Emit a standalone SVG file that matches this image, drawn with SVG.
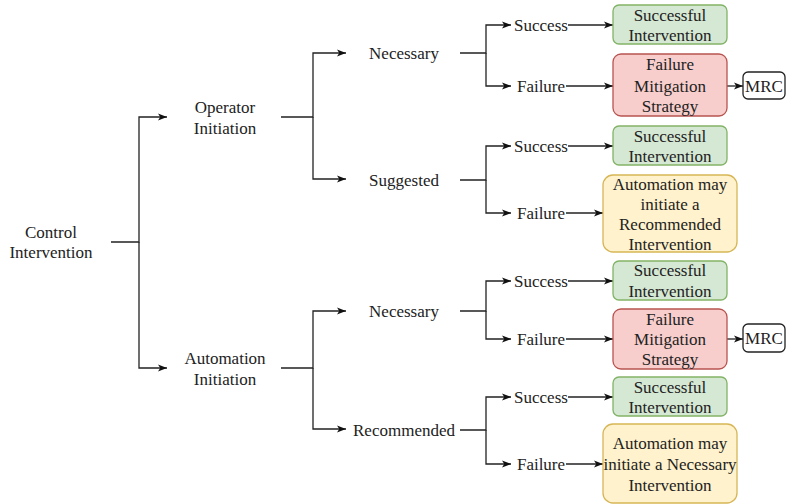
<svg xmlns="http://www.w3.org/2000/svg" width="786" height="504" viewBox="0 0 786 504">
<defs>
<marker id="arr" viewBox="0 0 10 8" refX="10" refY="4" markerWidth="9" markerHeight="7.2" markerUnits="userSpaceOnUse" orient="auto">
<path d="M0,0 L10,4 L0,8 L2.5,4 z" fill="#111"/>
</marker>
<style>
.c{fill:none;stroke:#222;stroke-width:1.3}
.a{marker-end:url(#arr)}
.g{fill:#d5e8d4;stroke:#82b366;stroke-width:1.3}
.r{fill:#f8cecc;stroke:#b85450;stroke-width:1.3}
.y{fill:#fff2cc;stroke:#d6b656;stroke-width:1.3}
.w{fill:#fff;stroke:#222;stroke-width:1.3}
</style>
</defs>
<rect width="786" height="504" fill="#fff"/>
<g id="connectors">
<path class="c a" d="M111,242 H139 V117 H167"/>
<path class="c a" d="M139,242 V368 H167"/>
<path class="c a" d="M281,117 H313 V53 H346"/>
<path class="c a" d="M313,117 V179 H346"/>
<path class="c a" d="M281,368 H313 V311 H346"/>
<path class="c a" d="M313,368 V429 H346"/>
<path class="c a" d="M460,53 H486 V25 H511"/>
<path class="c a" d="M486,53 V86 H511"/>
<path class="c a" d="M460,180 H486 V146 H511"/>
<path class="c a" d="M486,180 V213 H511"/>
<path class="c a" d="M460,311 H486 V281 H511"/>
<path class="c a" d="M486,311 V339 H511"/>
<path class="c a" d="M460,430 H486 V397 H511"/>
<path class="c a" d="M486,430 V464 H511"/>
<path class="c a" d="M568,25 H613"/>
<path class="c a" d="M566,86 H613"/>
<path class="c a" d="M568,146 H613"/>
<path class="c a" d="M566,213 H603"/>
<path class="c a" d="M568,281 H613"/>
<path class="c a" d="M566,339 H613"/>
<path class="c a" d="M568,397 H613"/>
<path class="c a" d="M566,464 H603"/>
<path class="c a" d="M727,86 H743"/>
<path class="c a" d="M727,339 H743"/>
</g>
<g id="nodes" font-size="17" fill="#222" text-anchor="middle">
<g id="control"><text font-family="Liberation Serif" x="51" y="238">Control</text><text font-family="Liberation Serif" x="51" y="258">Intervention</text></g>
<g id="operator"><text font-family="Liberation Serif" x="225" y="113">Operator</text><text font-family="Liberation Serif" x="225" y="134">Initiation</text></g>
<g id="automation"><text font-family="Liberation Serif" x="225" y="364">Automation</text><text font-family="Liberation Serif" x="225" y="385">Initiation</text></g>
<g id="necessary1"><text font-family="Liberation Serif" x="404" y="59">Necessary</text></g>
<g id="suggested"><text font-family="Liberation Serif" x="404" y="186">Suggested</text></g>
<g id="necessary2"><text font-family="Liberation Serif" x="404" y="317">Necessary</text></g>
<g id="recommended"><text font-family="Liberation Serif" x="404" y="436">Recommended</text></g>
<g id="success1"><text font-family="Liberation Serif" x="541" y="31">Success</text></g>
<g id="failure1"><text font-family="Liberation Serif" x="541" y="92">Failure</text></g>
<g id="success2"><text font-family="Liberation Serif" x="541" y="152">Success</text></g>
<g id="failure2"><text font-family="Liberation Serif" x="541" y="219">Failure</text></g>
<g id="success3"><text font-family="Liberation Serif" x="541" y="287">Success</text></g>
<g id="failure3"><text font-family="Liberation Serif" x="541" y="345">Failure</text></g>
<g id="success4"><text font-family="Liberation Serif" x="541" y="403">Success</text></g>
<g id="failure4"><text font-family="Liberation Serif" x="541" y="470">Failure</text></g>
<g id="succint1"><rect class="g" x="613" y="5" width="114" height="39" rx="6"/><text font-family="Liberation Serif" x="670" y="21">Successful</text><text font-family="Liberation Serif" x="670" y="41">Intervention</text></g>
<g id="fms1"><rect class="r" x="613" y="54" width="114" height="62" rx="8"/><text font-family="Liberation Serif" x="670" y="70">Failure</text><text font-family="Liberation Serif" x="670" y="92">Mitigation</text><text font-family="Liberation Serif" x="670" y="112">Strategy</text></g>
<g id="mrc1"><rect class="w" x="743" y="72" width="42" height="27" rx="5"/><text font-family="Liberation Serif" x="764" y="92">MRC</text></g>
<g id="succint2"><rect class="g" x="613" y="126" width="114" height="39" rx="6"/><text font-family="Liberation Serif" x="670" y="142">Successful</text><text font-family="Liberation Serif" x="670" y="162">Intervention</text></g>
<g id="autorec"><rect class="y" x="603" y="175" width="134" height="77" rx="10"/><text font-family="Liberation Serif" x="670" y="190">Automation may</text><text font-family="Liberation Serif" x="670" y="210">initiate a</text><text font-family="Liberation Serif" x="670" y="230">Recommended</text><text font-family="Liberation Serif" x="670" y="250">Intervention</text></g>
<g id="succint3"><rect class="g" x="613" y="261" width="114" height="39" rx="6"/><text font-family="Liberation Serif" x="670" y="276">Successful</text><text font-family="Liberation Serif" x="670" y="297">Intervention</text></g>
<g id="fms2"><rect class="r" x="613" y="309" width="114" height="60" rx="8"/><text font-family="Liberation Serif" x="670" y="325">Failure</text><text font-family="Liberation Serif" x="670" y="345">Mitigation</text><text font-family="Liberation Serif" x="670" y="365">Strategy</text></g>
<g id="mrc2"><rect class="w" x="743" y="324" width="42" height="28" rx="5"/><text font-family="Liberation Serif" x="764" y="344">MRC</text></g>
<g id="succint4"><rect class="g" x="613" y="377" width="114" height="39" rx="6"/><text font-family="Liberation Serif" x="670" y="393">Successful</text><text font-family="Liberation Serif" x="670" y="413">Intervention</text></g>
<g id="autonec"><rect class="y" x="603" y="424" width="134" height="79" rx="10"/><text font-family="Liberation Serif" x="670" y="449">Automation may</text><text font-family="Liberation Serif" x="670" y="470">initiate a Necessary</text><text font-family="Liberation Serif" x="670" y="491">Intervention</text></g>
</g>
</svg>
